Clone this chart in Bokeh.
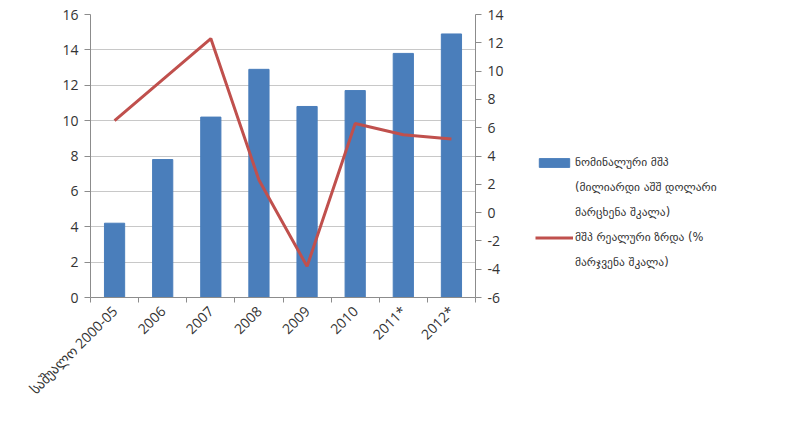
from math import pi

from bokeh.embed import file_html
from bokeh.layouts import row
from bokeh.models import (ColumnDataSource, FixedTicker, Legend, LegendItem,
                          LinearAxis, Range1d)
from bokeh.plotting import figure
from bokeh.resources import INLINE

# Georgia: nominal GDP (bn USD, left scale) and real GDP growth (%, right scale)
categories = ["საშუალო 2000-05", "2006", "2007", "2008", "2009", "2010", "2011*", "2012*"]
nominal_gdp = [4.2, 7.8, 10.2, 12.9, 10.8, 11.7, 13.8, 14.9]
real_growth = [6.5, 9.4, 12.3, 2.3, -3.8, 6.3, 5.5, 5.2]
left_ticks = [0, 2, 4, 6, 8, 10, 12, 14, 16]
right_ticks = [-6, -4, -2, 0, 2, 4, 6, 8, 10, 12, 14]

label_bar = ["ნომინალური მშპ", "(მილიარდი აშშ დოლარი", "მარცხენა შკალა)"]
label_line = ["მშპ რეალური ზრდა (%", "მარჯვენა შკალა)"]

BAR = "#4a7ebb"
LINE = "#c0504d"
AXIS = "#8c8c8c"
TEXT = "#333333"
FONT = "Open Sans"

idx = list(range(len(categories)))
src = ColumnDataSource(dict(x=idx, gdp=nominal_gdp, growth=real_growth))

p = figure(width=530, height=431, output_backend="svg", toolbar_location=None,
           x_range=Range1d(-0.5, len(categories) - 0.5),
           y_range=Range1d(left_ticks[0], left_ticks[-1]),
           min_border_left=90, min_border_right=55,
           min_border_top=14, min_border_bottom=134)
p.outline_line_color = None
p.background_fill_color = "white"
p.border_fill_color = "white"

p.extra_y_ranges = {"growth": Range1d(right_ticks[0], right_ticks[-1])}

p.vbar(x="x", top="gdp", width=0.42, source=src, color=BAR)
p.line(x="x", y="growth", source=src, y_range_name="growth",
       line_color=LINE, line_width=3)

# x axis: labels at category centres, small ticks between categories
xa = p.xaxis[0]
xa.ticker = FixedTicker(ticks=idx, minor_ticks=[i - 0.5 for i in range(len(categories) + 1)])
xa.major_label_overrides = {i: c for i, c in enumerate(categories)}
xa.major_label_orientation = pi / 4
xa.major_tick_out = 0
xa.major_tick_in = 0
xa.minor_tick_out = 5
xa.minor_tick_in = 0
xa.minor_tick_line_color = AXIS
xa.axis_line_color = AXIS

ya = p.yaxis[0]
ya.ticker = FixedTicker(ticks=left_ticks)
ya.minor_tick_line_color = None
ya.major_tick_out = 6
ya.major_tick_in = 0
ya.major_tick_line_color = AXIS
ya.axis_line_color = AXIS

ra = LinearAxis(y_range_name="growth", ticker=FixedTicker(ticks=right_ticks))
ra.major_label_overrides = {t: str(t) for t in right_ticks}
ra.minor_tick_line_color = None
ra.major_tick_out = 6
ra.major_tick_in = 0
ra.major_tick_line_color = AXIS
ra.axis_line_color = AXIS
p.add_layout(ra, "right")

for ax in (xa, ya, ra):
    ax.major_label_text_font = FONT
    ax.major_label_text_font_size = "14px"
    ax.major_label_text_color = TEXT
    ax.major_label_standoff = 6

p.xgrid.grid_line_color = None
p.ygrid.ticker = FixedTicker(ticks=left_ticks)
p.ygrid.grid_line_color = "#c8c8c8"
p.ygrid.grid_line_width = 1

# legend panel beside the chart; its key renderers share the series data but
# sit outside this panel's ranges, so only their legend samples show
lg = figure(width=256, height=431, output_backend="svg", toolbar_location=None,
            x_range=Range1d(-20, -19), y_range=Range1d(-20, -19),
            min_border=0, outline_line_color=None)
lg.axis.visible = False
lg.grid.visible = False
bar_key = lg.vbar(x="x", top="gdp", width=0.42, source=src, color=BAR)
line_key = lg.line(x="x", y="growth", source=src, line_color=LINE, line_width=3)

items = []
for lines, rend in ((label_bar, bar_key), (label_line, line_key)):
    for i, text in enumerate(lines):
        items.append(LegendItem(label=text, renderers=[rend] if i == 0 else []))

legend = Legend(items=items, location=(5, 28), orientation="vertical",
                border_line_color=None, background_fill_alpha=0,
                label_text_font="DejaVu Sans", label_text_font_size="11.5px",
                label_text_color=TEXT,
                glyph_width=38, glyph_height=11, label_standoff=2,
                spacing=11, padding=0, margin=0)
lg.add_layout(legend, "center")

open("out.html", "w").write(file_html(row(p, lg), INLINE))
